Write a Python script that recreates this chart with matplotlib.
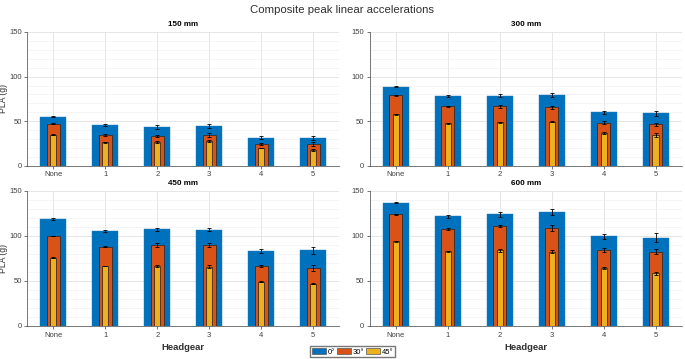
import matplotlib
matplotlib.use("Agg")
import matplotlib.pyplot as plt
import numpy as np
from matplotlib.patches import Patch

plt.rcParams['font.family'] = ['Liberation Sans', 'DejaVu Sans']

categories = ["None", "1", "2", "3", "4", "5"]
angles = ["0°", "30°", "45°"]
heights = ["150 mm", "300 mm", "450 mm", "600 mm"]

pla_0 = {
    "150 mm": [55, 45.5, 43.5, 44.5, 31.5, 31.5],
    "300 mm": [88.5, 78, 78.5, 79.5, 60, 59],
    "450 mm": [119, 105.5, 107.5, 107, 83.5, 84],
    "600 mm": [137, 122, 124, 126.5, 99.5, 98],
}
pla_30 = {
    "150 mm": [47, 34.5, 33.5, 34.5, 24.5, 24.5],
    "300 mm": [79, 66.5, 66.5, 65.5, 48.5, 46.5],
    "450 mm": [100, 88, 90, 90, 66.5, 64.5],
    "600 mm": [124, 107.5, 111, 109, 84.5, 82.5],
}
pla_45 = {
    "150 mm": [35, 26.5, 27, 28, 20, 18],
    "300 mm": [58, 47.5, 49, 49.5, 36.5, 34.5],
    "450 mm": [76, 66.5, 66.5, 66, 49, 47],
    "600 mm": [94, 83, 84, 82.5, 64, 58.5],
}
err_0 = {
    "150 mm": [0.5, 1, 2, 2, 1.5, 2],
    "300 mm": [0.5, 1, 1.5, 2, 1.5, 3],
    "450 mm": [1, 1.5, 1.5, 2, 2, 4],
    "600 mm": [0.5, 1.5, 3, 3, 2.5, 5],
}
err_30 = {
    "150 mm": [0.5, 1, 1.5, 2, 1, 2],
    "300 mm": [0.3, 0.5, 2, 1.5, 1.5, 2],
    "450 mm": [0.3, 0.5, 2.5, 2.5, 1.5, 3],
    "600 mm": [0.5, 1, 1.5, 3, 2.5, 2.5],
}
err_45 = {
    "150 mm": [0.5, 0.5, 1, 1, 0.5, 1],
    "300 mm": [0.5, 0.5, 0.5, 0.5, 1, 2],
    "450 mm": [0.3, 0.3, 1.5, 1.5, 0.5, 0.5],
    "600 mm": [0.5, 0.5, 2, 1.5, 1, 2],
}

colors = ["#0072BD", "#D95319", "#EDB120"]
widths = [0.5, 0.25, 0.12]
edges = ["#1F77B4", "#3a2a20", "#3a2a20"]

fig = plt.figure(figsize=(6.85, 3.59), dpi=100)
positions = [
    [0.040, 0.538, 0.455, 0.373],
    [0.540, 0.538, 0.455, 0.373],
    [0.040, 0.092, 0.455, 0.376],
    [0.540, 0.092, 0.455, 0.376],
]
x = np.arange(1, len(categories) + 1)
for i, h in enumerate(heights):
    ax = fig.add_axes(positions[i])
    series = [(pla_0[h], err_0[h]), (pla_30[h], err_30[h]), (pla_45[h], err_45[h])]
    for j, (vals, errs) in enumerate(series):
        ax.bar(x, vals, width=widths[j], color=colors[j],
               edgecolor=edges[j], linewidth=0.6 if j else 0.3, zorder=3 + j)
        ax.errorbar(x, vals, yerr=errs, fmt='none', ecolor='black',
                    elinewidth=0.6, capsize=1.5, capthick=0.6, zorder=10)
    ax.set_xlim(0.5, 6.5)
    ax.set_ylim(0, 150)
    ax.set_xticks(x)
    ax.set_xticklabels(categories)
    ax.set_yticks([0, 50, 100, 150])
    ax.set_yticks(np.arange(0, 151, 10), minor=True)
    ax.grid(True, which='major', color='#dcdcdc', linewidth=0.5, zorder=0)
    ax.grid(True, which='minor', axis='y', color='#eeeeee', linewidth=0.4, zorder=0)
    ax.set_axisbelow(True)
    ax.tick_params(axis='both', labelsize=5.5, colors='#404040', length=2, width=0.5, pad=2)
    ax.tick_params(axis='y', which='minor', length=0)
    for s in ['top', 'right']:
        ax.spines[s].set_visible(False)
    for s in ['left', 'bottom']:
        ax.spines[s].set_color('#404040')
        ax.spines[s].set_linewidth(0.5)
    ax.set_title(h, fontsize=5.8, fontweight='bold', pad=4)
    if i % 2 == 0:
        ax.set_ylabel("PLA (g)", fontsize=6.2, color='#303030')
        ax.yaxis.set_label_coords(-0.062, 0.5)
    if i >= 2:
        ax.set_xlabel("Headgear", fontsize=6.8, fontweight='bold', color='#303030', labelpad=3)

fig.suptitle("Composite peak linear accelerations", fontsize=8.2, color='#303030', y=0.985)

handles = [Patch(facecolor=colors[k], edgecolor='#555555', linewidth=0.5) for k in range(3)]
fig.legend(handles, angles, loc='lower center', bbox_to_anchor=(0.515, 0.0), ncol=3,
           fontsize=5.5, frameon=True, fancybox=False, edgecolor='#555555',
           handlelength=1.8, handleheight=0.9, handletextpad=0.2, columnspacing=0.3,
           borderpad=0.25, borderaxespad=0.2)

fig.savefig("out.png", dpi=100)
